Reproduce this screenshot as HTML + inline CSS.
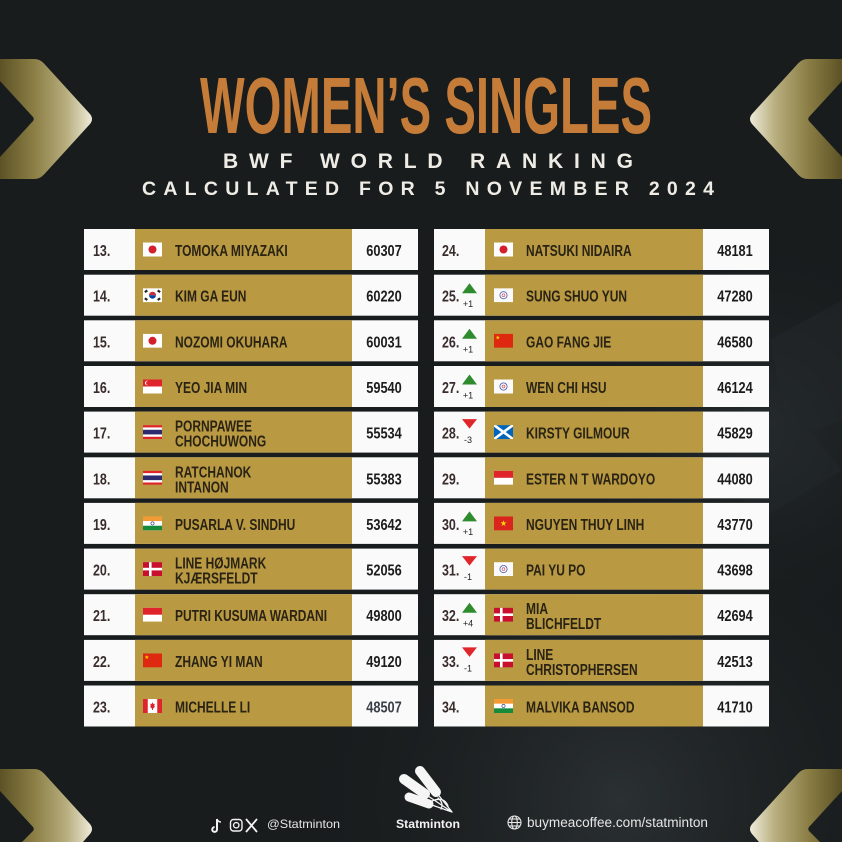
<!DOCTYPE html>
<html><head><meta charset="utf-8"><style>
html,body{margin:0;padding:0;background:#181c1d;width:842px;height:842px;overflow:hidden;}
svg{display:block}
.n{font-family:"Liberation Sans",sans-serif;font-weight:bold;font-size:16px;fill:#2a2314}
.v{font-family:"Liberation Sans",sans-serif;font-weight:bold;font-size:16px;fill:#1c1c1c;text-anchor:middle}
.r{font-family:"Liberation Sans",sans-serif;font-weight:bold;font-size:16px;fill:#3a2c2c}
.a{font-family:"Liberation Sans",sans-serif;font-size:9px;fill:#222;text-anchor:middle}
</style></head><body>
<svg width="842" height="842" viewBox="0 0 842 842" xmlns="http://www.w3.org/2000/svg" overflow="hidden">
<defs>
<linearGradient id="cg" gradientUnits="userSpaceOnUse" x1="0" y1="0" x2="95" y2="0">
<stop offset="0" stop-color="#5c5226"/><stop offset="0.35" stop-color="#8a7d44"/><stop offset="0.7" stop-color="#b8ae7e"/><stop offset="1" stop-color="#f4f1e4"/></linearGradient>
<radialGradient id="bg1" cx="620" cy="800" r="330" gradientUnits="userSpaceOnUse"><stop offset="0" stop-color="#2b3032"/><stop offset="1" stop-color="#181c1d" stop-opacity="0"/></radialGradient>
<radialGradient id="bg2" cx="760" cy="430" r="200" gradientUnits="userSpaceOnUse"><stop offset="0" stop-color="#262b2e"/><stop offset="1" stop-color="#181c1d" stop-opacity="0"/></radialGradient>
<symbol id="jp" viewBox="0 0 19 14"><rect width="19" height="14" fill="#fff"/><circle cx="9.5" cy="7" r="4" fill="#d4202c"/></symbol>
<symbol id="kr" viewBox="0 0 19 14"><rect width="19" height="14" fill="#fff"/><path d="M6,7 A3.5,3.5 0 0 1 13,7Z" fill="#cd2e3a"/><path d="M6,7 A3.5,3.5 0 0 0 13,7Z" fill="#0047a0"/><g fill="#222"><rect x="1.5" y="2" width="3" height="2.2" transform="rotate(-35 3 3)"/><rect x="14.5" y="2" width="3" height="2.2" transform="rotate(35 16 3)"/><rect x="1.5" y="9.8" width="3" height="2.2" transform="rotate(35 3 11)"/><rect x="14.5" y="9.8" width="3" height="2.2" transform="rotate(-35 16 11)"/></g></symbol>
<symbol id="sg" viewBox="0 0 19 14"><rect width="19" height="14" fill="#fff"/><rect width="19" height="7" fill="#e0242c"/><circle cx="4.2" cy="3.5" r="2.2" fill="#fff"/><circle cx="5.1" cy="3.5" r="2" fill="#e0242c"/></symbol>
<symbol id="th" viewBox="0 0 19 14"><rect width="19" height="14" fill="#e0242c"/><rect y="2.33" width="19" height="9.34" fill="#fff"/><rect y="4.67" width="19" height="4.66" fill="#2d2a6e"/></symbol>
<symbol id="in" viewBox="0 0 19 14"><rect width="19" height="14" fill="#fff"/><rect width="19" height="4.67" fill="#f49a35"/><rect y="9.33" width="19" height="4.67" fill="#148a3a"/><circle cx="9.5" cy="7" r="1.6" fill="none" stroke="#1a237e" stroke-width=".6"/></symbol>
<symbol id="dk" viewBox="0 0 19 14"><rect width="19" height="14" fill="#c8102e"/><rect x="6" width="2.6" height="14" fill="#fff"/><rect y="5.7" width="19" height="2.6" fill="#fff"/></symbol>
<symbol id="id" viewBox="0 0 19 14"><rect width="19" height="14" fill="#fff"/><rect width="19" height="7" fill="#e0242c"/></symbol>
<symbol id="cn" viewBox="0 0 19 14"><rect width="19" height="14" fill="#de2910"/><polygon points="3.8,1.6 4.29,3.12 5.89,3.12 4.6,4.06 5.09,5.58 3.8,4.64 2.51,5.58 3.0,4.06 1.71,3.12 3.31,3.12" fill="#ffde00"/></symbol>
<symbol id="ca" viewBox="0 0 19 14"><rect width="19" height="14" fill="#fff"/><rect width="4.75" height="14" fill="#e0242c"/><rect x="14.25" width="4.75" height="14" fill="#e0242c"/><polygon points="9.5,3 10.3,5 11.8,4.6 11.2,7.2 12.2,7.6 10,9.6 10,11 9,11 9,9.6 6.8,7.6 7.8,7.2 7.2,4.6 8.7,5" fill="#e0242c"/></symbol>
<symbol id="tpe" viewBox="0 0 19 14"><rect width="19" height="14" fill="#fafafa"/><circle cx="9.5" cy="7" r="3.6" fill="none" stroke="#4455a8" stroke-width=".8"/><circle cx="9.5" cy="7" r="1.4" fill="none" stroke="#c84050" stroke-width=".6"/></symbol>
<symbol id="sco" viewBox="0 0 19 14"><rect width="19" height="14" fill="#0065bd"/><path d="M0,0 L19,14 M19,0 L0,14" stroke="#fff" stroke-width="2.6"/></symbol>
<symbol id="vn" viewBox="0 0 19 14"><rect width="19" height="14" fill="#da251d"/><polygon points="9.5,3.8 10.22,6.01 12.54,6.01 10.66,7.38 11.38,9.59 9.5,8.22 7.62,9.59 8.34,7.38 6.46,6.01 8.78,6.01" fill="#ffde00"/></symbol>
</defs>

<!-- background -->
<rect width="842" height="842" fill="#181c1d"/>
<rect width="842" height="842" fill="url(#bg1)"/>
<rect width="842" height="842" fill="url(#bg2)"/>
<g fill="#23282a" opacity="0.5">
<polygon points="770,340 842,300 842,420 790,440"/>
<polygon points="700,450 800,420 842,470 760,520"/>
</g>

<!-- chevrons -->
<g fill="url(#cg)">
<path d="M0,59 L34,59 Q40,59 44,63.5 L90,114 Q94,119 90,124 L44,174.5 Q40,179 34,179 L0,179 L0,157 L33,121 Q34.5,119 33,117 L0,81 Z"/>
<path d="M0,59 L34,59 Q40,59 44,63.5 L90,114 Q94,119 90,124 L44,174.5 Q40,179 34,179 L0,179 L0,157 L33,121 Q34.5,119 33,117 L0,81 Z" transform="translate(842,0) scale(-1,1)"/>
<path d="M0,769 L34,769 Q40,769 44,773.5 L90,824 Q94,829 90,834 L83,842 L22,842 L33,831 Q34.5,829 33,827 L0,791 Z"/>
<path d="M0,769 L34,769 Q40,769 44,773.5 L90,824 Q94,829 90,834 L83,842 L22,842 L33,831 Q34.5,829 33,827 L0,791 Z" transform="translate(842,0) scale(-1,1)"/>
</g>

<!-- titles -->
<text x="200" y="133" font-family="Liberation Sans, sans-serif" font-weight="bold" font-size="80" fill="#c67c39" textLength="452" lengthAdjust="spacingAndGlyphs">WOMEN’S SINGLES</text>
<text x="223" y="168" font-family="Liberation Sans, sans-serif" font-weight="bold" font-size="21" fill="#efece6" textLength="410" lengthAdjust="spacing">BWF WORLD RANKING</text>
<text x="142" y="195" font-family="Liberation Sans, sans-serif" font-weight="bold" font-size="19.5" fill="#efece6" textLength="572" lengthAdjust="spacing">CALCULATED FOR 5 NOVEMBER 2024</text>

<!-- row backgrounds -->
<g>
<rect x="84" y="229" width="334" height="41" fill="#fafafa"/><rect x="135" y="229" width="217" height="41" fill="#b99a42"/>
<rect x="84" y="274.7" width="334" height="41" fill="#fafafa"/><rect x="135" y="274.7" width="217" height="41" fill="#b99a42"/>
<rect x="84" y="320.3" width="334" height="41" fill="#fafafa"/><rect x="135" y="320.3" width="217" height="41" fill="#b99a42"/>
<rect x="84" y="366" width="334" height="41" fill="#fafafa"/><rect x="135" y="366" width="217" height="41" fill="#b99a42"/>
<rect x="84" y="411.6" width="334" height="41" fill="#fafafa"/><rect x="135" y="411.6" width="217" height="41" fill="#b99a42"/>
<rect x="84" y="457.3" width="334" height="41" fill="#fafafa"/><rect x="135" y="457.3" width="217" height="41" fill="#b99a42"/>
<rect x="84" y="502.9" width="334" height="41" fill="#fafafa"/><rect x="135" y="502.9" width="217" height="41" fill="#b99a42"/>
<rect x="84" y="548.6" width="334" height="41" fill="#fafafa"/><rect x="135" y="548.6" width="217" height="41" fill="#b99a42"/>
<rect x="84" y="594.2" width="334" height="41" fill="#fafafa"/><rect x="135" y="594.2" width="217" height="41" fill="#b99a42"/>
<rect x="84" y="639.9" width="334" height="41" fill="#fafafa"/><rect x="135" y="639.9" width="217" height="41" fill="#b99a42"/>
<rect x="84" y="685.5" width="334" height="41" fill="#fafafa"/><rect x="135" y="685.5" width="217" height="41" fill="#b99a42"/>

<rect x="434" y="229" width="335" height="41" fill="#fafafa"/><rect x="485" y="229" width="218" height="41" fill="#b99a42"/>
<rect x="434" y="274.7" width="335" height="41" fill="#fafafa"/><rect x="485" y="274.7" width="218" height="41" fill="#b99a42"/>
<rect x="434" y="320.3" width="335" height="41" fill="#fafafa"/><rect x="485" y="320.3" width="218" height="41" fill="#b99a42"/>
<rect x="434" y="366" width="335" height="41" fill="#fafafa"/><rect x="485" y="366" width="218" height="41" fill="#b99a42"/>
<rect x="434" y="411.6" width="335" height="41" fill="#fafafa"/><rect x="485" y="411.6" width="218" height="41" fill="#b99a42"/>
<rect x="434" y="457.3" width="335" height="41" fill="#fafafa"/><rect x="485" y="457.3" width="218" height="41" fill="#b99a42"/>
<rect x="434" y="502.9" width="335" height="41" fill="#fafafa"/><rect x="485" y="502.9" width="218" height="41" fill="#b99a42"/>
<rect x="434" y="548.6" width="335" height="41" fill="#fafafa"/><rect x="485" y="548.6" width="218" height="41" fill="#b99a42"/>
<rect x="434" y="594.2" width="335" height="41" fill="#fafafa"/><rect x="485" y="594.2" width="218" height="41" fill="#b99a42"/>
<rect x="434" y="639.9" width="335" height="41" fill="#fafafa"/><rect x="485" y="639.9" width="218" height="41" fill="#b99a42"/>
<rect x="434" y="685.5" width="335" height="41" fill="#fafafa"/><rect x="485" y="685.5" width="218" height="41" fill="#b99a42"/>
</g>

<!-- flags left -->
<use href="#jp" x="143" y="242.5" width="19" height="14"/>
<use href="#kr" x="143" y="288.2" width="19" height="14"/>
<use href="#jp" x="143" y="333.8" width="19" height="14"/>
<use href="#sg" x="143" y="379.5" width="19" height="14"/>
<use href="#th" x="143" y="425.1" width="19" height="14"/>
<use href="#th" x="143" y="470.8" width="19" height="14"/>
<use href="#in" x="143" y="516.4" width="19" height="14"/>
<use href="#dk" x="143" y="562.1" width="19" height="14"/>
<use href="#id" x="143" y="607.7" width="19" height="14"/>
<use href="#cn" x="143" y="653.4" width="19" height="14"/>
<use href="#ca" x="143" y="699" width="19" height="14"/>
<!-- flags right -->
<use href="#jp" x="494" y="242.5" width="19" height="14"/>
<use href="#tpe" x="494" y="288.2" width="19" height="14"/>
<use href="#cn" x="494" y="333.8" width="19" height="14"/>
<use href="#tpe" x="494" y="379.5" width="19" height="14"/>
<use href="#sco" x="494" y="425.1" width="19" height="14"/>
<use href="#id" x="494" y="470.8" width="19" height="14"/>
<use href="#vn" x="494" y="516.4" width="19" height="14"/>
<use href="#tpe" x="494" y="562.1" width="19" height="14"/>
<use href="#dk" x="494" y="607.7" width="19" height="14"/>
<use href="#dk" x="494" y="653.4" width="19" height="14"/>
<use href="#in" x="494" y="699" width="19" height="14"/>

<!-- left ranks -->
<text class="r" transform="translate(93 256) scale(.78 1)">13.</text>
<text class="r" transform="translate(93 301.7) scale(.78 1)">14.</text>
<text class="r" transform="translate(93 347.3) scale(.78 1)">15.</text>
<text class="r" transform="translate(93 393) scale(.78 1)">16.</text>
<text class="r" transform="translate(93 438.6) scale(.78 1)">17.</text>
<text class="r" transform="translate(93 484.3) scale(.78 1)">18.</text>
<text class="r" transform="translate(93 529.9) scale(.78 1)">19.</text>
<text class="r" transform="translate(93 575.6) scale(.78 1)">20.</text>
<text class="r" transform="translate(93 621.2) scale(.78 1)">21.</text>
<text class="r" transform="translate(93 666.9) scale(.78 1)">22.</text>
<text class="r" transform="translate(93 712.5) scale(.78 1)">23.</text>

<!-- left names -->
<text class="n" transform="translate(175 256) scale(.75 1)">TOMOKA MIYAZAKI</text>
<text class="n" transform="translate(175 301.7) scale(.75 1)">KIM GA EUN</text>
<text class="n" transform="translate(175 347.3) scale(.75 1)">NOZOMI OKUHARA</text>
<text class="n" transform="translate(175 393) scale(.75 1)">YEO JIA MIN</text>
<text class="n" transform="translate(175 431.6) scale(.75 1)">PORNPAWEE</text>
<text class="n" transform="translate(175 446.6) scale(.75 1)">CHOCHUWONG</text>
<text class="n" transform="translate(175 477.3) scale(.75 1)">RATCHANOK</text>
<text class="n" transform="translate(175 492.3) scale(.75 1)">INTANON</text>
<text class="n" transform="translate(175 529.9) scale(.75 1)">PUSARLA V. SINDHU</text>
<text class="n" transform="translate(175 568.6) scale(.75 1)">LINE HØJMARK</text>
<text class="n" transform="translate(175 583.6) scale(.75 1)">KJÆRSFELDT</text>
<text class="n" transform="translate(175 621.2) scale(.75 1)">PUTRI KUSUMA WARDANI</text>
<text class="n" transform="translate(175 666.9) scale(.75 1)">ZHANG YI MAN</text>
<text class="n" transform="translate(175 712.5) scale(.75 1)">MICHELLE LI</text>

<!-- left values -->
<text class="v" transform="translate(384 256) scale(.8 1)">60307</text>
<text class="v" transform="translate(384 301.7) scale(.8 1)">60220</text>
<text class="v" transform="translate(384 347.3) scale(.8 1)">60031</text>
<text class="v" transform="translate(384 393) scale(.8 1)">59540</text>
<text class="v" transform="translate(384 438.6) scale(.8 1)">55534</text>
<text class="v" transform="translate(384 484.3) scale(.8 1)">55383</text>
<text class="v" transform="translate(384 529.9) scale(.8 1)">53642</text>
<text class="v" transform="translate(384 575.6) scale(.8 1)">52056</text>
<text class="v" transform="translate(384 621.2) scale(.8 1)">49800</text>
<text class="v" transform="translate(384 666.9) scale(.8 1)">49120</text>
<text class="v" transform="translate(384 712.5) scale(.8 1)" style="fill:#3a4048">48507</text>

<!-- right ranks -->
<text class="r" transform="translate(442 256) scale(.78 1)">24.</text>
<text class="r" transform="translate(442 301.7) scale(.78 1)">25.</text>
<text class="r" transform="translate(442 347.3) scale(.78 1)">26.</text>
<text class="r" transform="translate(442 393) scale(.78 1)">27.</text>
<text class="r" transform="translate(442 438.6) scale(.78 1)">28.</text>
<text class="r" transform="translate(442 484.3) scale(.78 1)">29.</text>
<text class="r" transform="translate(442 529.9) scale(.78 1)">30.</text>
<text class="r" transform="translate(442 575.6) scale(.78 1)">31.</text>
<text class="r" transform="translate(442 621.2) scale(.78 1)">32.</text>
<text class="r" transform="translate(442 666.9) scale(.78 1)">33.</text>
<text class="r" transform="translate(442 712.5) scale(.78 1)">34.</text>

<!-- arrows -->
<g fill="#2e8b2e">
<polygon points="462,293.2 477,293.2 469.5,283.2"/>
<polygon points="462,338.8 477,338.8 469.5,328.8"/>
<polygon points="462,384.5 477,384.5 469.5,374.5"/>
<polygon points="462,521.4 477,521.4 469.5,511.4"/>
<polygon points="462,612.7 477,612.7 469.5,602.7"/>
</g>
<g fill="#e0262b">
<polygon points="462,419.1 477,419.1 469.5,428.6"/>
<polygon points="462,556.1 477,556.1 469.5,565.6"/>
<polygon points="462,647.4 477,647.4 469.5,656.9"/>
</g>
<text class="a" x="468" y="307">+1</text>
<text class="a" x="468" y="352.6">+1</text>
<text class="a" x="468" y="398.3">+1</text>
<text class="a" x="468" y="443.1">-3</text>
<text class="a" x="468" y="535.2">+1</text>
<text class="a" x="468" y="580.1">-1</text>
<text class="a" x="468" y="626.5">+4</text>
<text class="a" x="468" y="671.4">-1</text>

<!-- right names -->
<text class="n" transform="translate(526 256) scale(.75 1)">NATSUKI NIDAIRA</text>
<text class="n" transform="translate(526 301.7) scale(.75 1)">SUNG SHUO YUN</text>
<text class="n" transform="translate(526 347.3) scale(.75 1)">GAO FANG JIE</text>
<text class="n" transform="translate(526 393) scale(.75 1)">WEN CHI HSU</text>
<text class="n" transform="translate(526 438.6) scale(.75 1)">KIRSTY GILMOUR</text>
<text class="n" transform="translate(526 484.3) scale(.75 1)">ESTER N T WARDOYO</text>
<text class="n" transform="translate(526 529.9) scale(.75 1)">NGUYEN THUY LINH</text>
<text class="n" transform="translate(526 575.6) scale(.75 1)">PAI YU PO</text>
<text class="n" transform="translate(526 614.2) scale(.75 1)">MIA</text>
<text class="n" transform="translate(526 629.2) scale(.75 1)">BLICHFELDT</text>
<text class="n" transform="translate(526 659.9) scale(.75 1)">LINE</text>
<text class="n" transform="translate(526 674.9) scale(.75 1)">CHRISTOPHERSEN</text>
<text class="n" transform="translate(526 712.5) scale(.75 1)">MALVIKA BANSOD</text>

<!-- right values -->
<text class="v" transform="translate(735 256) scale(.8 1)">48181</text>
<text class="v" transform="translate(735 301.7) scale(.8 1)">47280</text>
<text class="v" transform="translate(735 347.3) scale(.8 1)">46580</text>
<text class="v" transform="translate(735 393) scale(.8 1)">46124</text>
<text class="v" transform="translate(735 438.6) scale(.8 1)">45829</text>
<text class="v" transform="translate(735 484.3) scale(.8 1)">44080</text>
<text class="v" transform="translate(735 529.9) scale(.8 1)">43770</text>
<text class="v" transform="translate(735 575.6) scale(.8 1)">43698</text>
<text class="v" transform="translate(735 621.2) scale(.8 1)">42694</text>
<text class="v" transform="translate(735 666.9) scale(.8 1)">42513</text>
<text class="v" transform="translate(735 712.5) scale(.8 1)">41710</text>

<!-- footer: social icons -->
<g fill="none" stroke="#f2f2f2" stroke-width="1.4">
<path d="M217,819 L217,829.5 A2.4,2.4 0 1 1 214.6,827.1" stroke-width="2"/>
<path d="M217,819 Q218,822 221,822" stroke-width="1.5"/>
<rect x="230.5" y="819.5" width="11.5" height="11.5" rx="3"/>
<circle cx="236.25" cy="825.25" r="2.7"/>
<path d="M246,819 L257,832 M257,819 L246,832" stroke-width="1.8"/>
</g>
<text x="267" y="828" font-family="Liberation Sans, sans-serif" font-size="12" fill="#e6e6e6" textLength="73" lengthAdjust="spacingAndGlyphs">@Statminton</text>

<!-- logo -->
<g stroke="#f5f5f5" stroke-linecap="round" fill="none">
<line x1="420" y1="771" x2="436" y2="792" stroke-width="10"/>
<line x1="404" y1="779" x2="425" y2="794" stroke-width="10"/>
<line x1="409" y1="797" x2="429" y2="804" stroke-width="9"/>
<path d="M436,792 L452,812 M425,794 L452,812 M429,804 L452,812 M438,798 Q444,803 441,809 M432,801 Q444,796 448,806" stroke-width="1.3"/>
</g>
<text x="396" y="828" font-family="Liberation Sans, sans-serif" font-weight="bold" font-size="12" fill="#f2f2f2" textLength="64" lengthAdjust="spacingAndGlyphs">Statminton</text>

<!-- globe + url -->
<g fill="none" stroke="#e6e6e6" stroke-width="1.1">
<circle cx="514.5" cy="822.5" r="6.5"/>
<ellipse cx="514.5" cy="822.5" rx="2.8" ry="6.5"/>
<line x1="508" y1="822.5" x2="521" y2="822.5"/>
<line x1="509" y1="819" x2="520" y2="819"/>
<line x1="509" y1="826" x2="520" y2="826"/>
</g>
<text x="527" y="827" font-family="Liberation Sans, sans-serif" font-size="13.5" fill="#e6e6e6" textLength="181" lengthAdjust="spacingAndGlyphs">buymeacoffee.com/statminton</text>
</svg>
</body></html>
